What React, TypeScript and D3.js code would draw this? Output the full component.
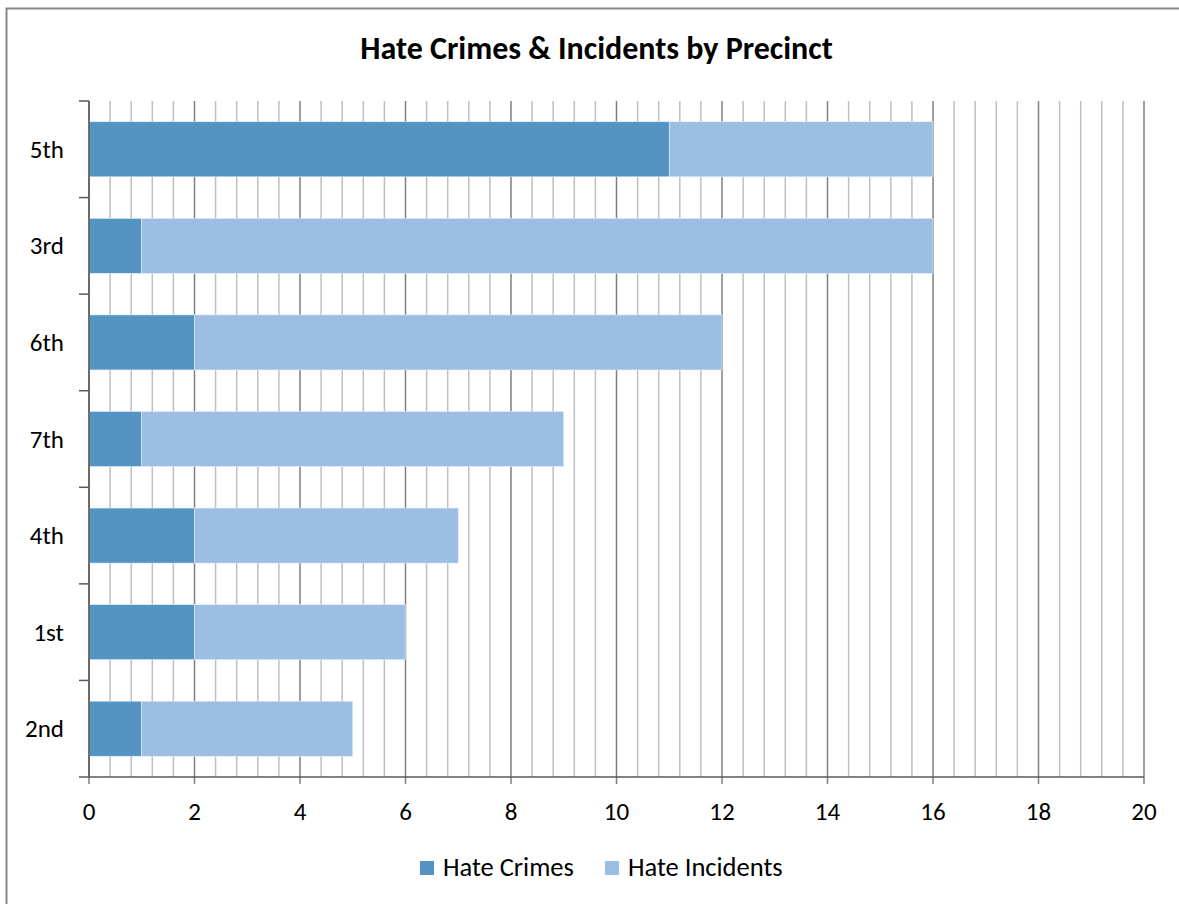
import React from "react";
import * as d3 from "d3";

const categories = ["5th", "3rd", "6th", "7th", "4th", "1st", "2nd"];
const hateCrimes = [11, 1, 2, 1, 2, 2, 1];
const hateIncidents = [5, 15, 10, 8, 5, 4, 4];
const seriesNames = ["Hate Crimes", "Hate Incidents"];
const xTicks = [0, 2, 4, 6, 8, 10, 12, 14, 16, 18, 20];

const W = 1179;
const H = 904;
const colors = ["#5394c2", "#9bbee2"];
const FONT = "Carlito, Calibri, 'Open Sans', 'Liberation Sans', sans-serif";

export default function App() {
  const left = 89, right = 1144, top = 101, bottom = 777;
  const x = d3.scaleLinear().domain([0, 20]).range([left, right]);
  const y = d3.scaleBand().domain(categories).range([top, bottom]).paddingInner(0.43).paddingOuter(0.215);
  const band = d3.scaleBand().domain(categories).range([top, bottom]);
  const minor = d3.range(0, 20.001, 0.4).filter((v) => Math.abs(v / 2 - Math.round(v / 2)) > 1e-6);
  const rows = categories.map((c, i) => ({ c, a: hateCrimes[i], b: hateIncidents[i] }));
  return (
    <svg width={W} height={H} style={{ position: "absolute", left: 0, top: 0, background: "#fff" }} fontFamily={FONT}>
      <rect x={6.5} y={8.5} width={W + 10} height={H + 10} fill="#fff" stroke="#878787" strokeWidth={2} />
      <text x={596.5} y={59} textAnchor="middle" fontSize={32} fontWeight="bold" fill="#000">
        Hate Crimes &amp; Incidents by Precinct
      </text>
      {minor.map((v) => (
        <line key={"m" + v} x1={x(v)} x2={x(v)} y1={top} y2={bottom} stroke="#bfbfbf" strokeWidth={1.5} />
      ))}
      {xTicks.map((v) => (
        <line key={"M" + v} x1={x(v)} x2={x(v)} y1={top} y2={bottom + 7} stroke="#7f7f7f" strokeWidth={1.5} />
      ))}
      {rows.map((r) => (
        <g key={r.c}>
          <rect x={x(0)} y={y(r.c)} width={x(r.a) - x(0)} height={y.bandwidth()} fill={colors[0]} stroke="#e6eef7" strokeWidth={0.6} />
          <rect x={x(r.a)} y={y(r.c)} width={x(r.a + r.b) - x(r.a)} height={y.bandwidth()} fill={colors[1]} stroke="#e6eef7" strokeWidth={0.6} />
          <text x={64} y={(y(r.c) as number) + y.bandwidth() / 2 + 8.5} textAnchor="end" fontSize={25} fill="#000">
            {r.c}
          </text>
        </g>
      ))}
      {categories.map((c) => (
        <line key={"t" + c} x1={79} x2={left} y1={band(c)} y2={band(c)} stroke="#595959" strokeWidth={1.5} />
      ))}
      <line x1={79} x2={left} y1={bottom} y2={bottom} stroke="#595959" strokeWidth={1.5} />
      <line x1={left} x2={left} y1={top} y2={bottom} stroke="#595959" strokeWidth={1.5} />
      <line x1={left} x2={right} y1={bottom} y2={bottom} stroke="#595959" strokeWidth={1.5} />
      {xTicks.map((v) => (
        <text key={"l" + v} x={x(v)} y={820} textAnchor="middle" fontSize={25} fill="#000">
          {v}
        </text>
      ))}
      {seriesNames.map((n, i) => {
        const lx = i === 0 ? 420 : 605;
        return (
          <g key={n}>
            <rect x={lx} y={861} width={14} height={14} fill={colors[i]} />
            <text x={lx + 23} y={876} fontSize={26.5} fill="#000">
              {n}
            </text>
          </g>
        );
      })}
    </svg>
  );
}
